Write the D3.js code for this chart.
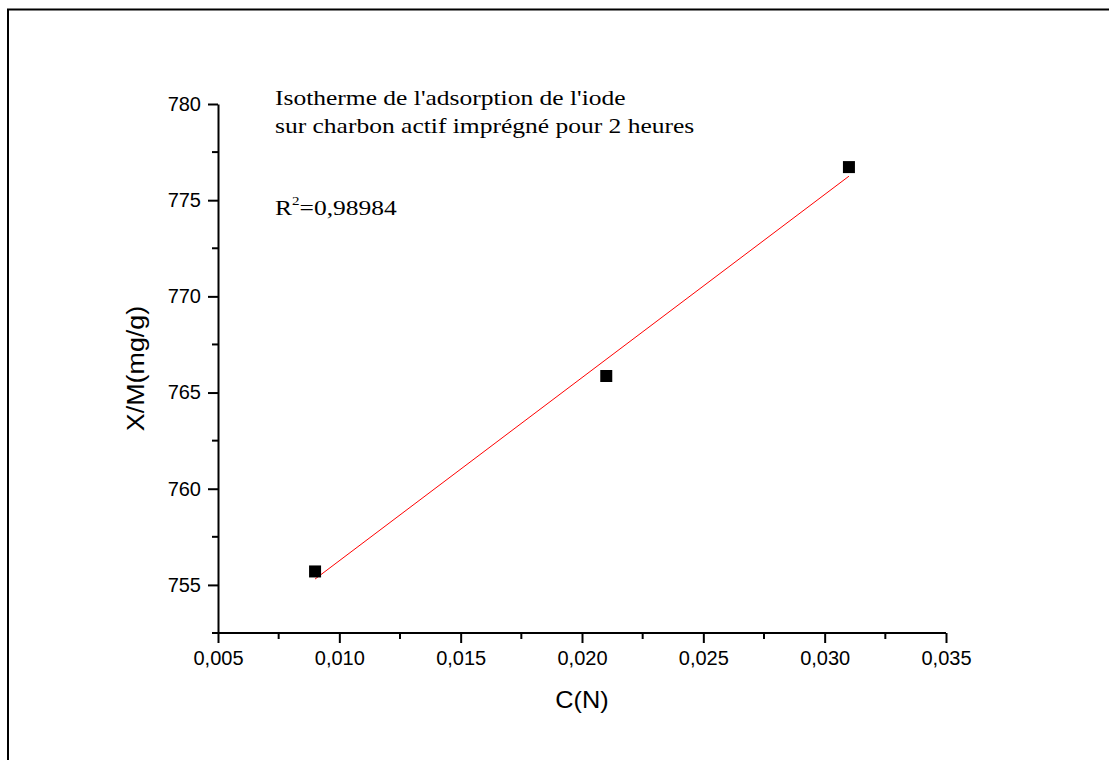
<!DOCTYPE html>
<html>
<head>
<meta charset="utf-8">
<script src="https://cdn.jsdelivr.net/npm/d3@7"></script>
<style>
  html, body { margin: 0; padding: 0; background: #fff; }
  svg { display: block; }
</style>
</head>
<body>
<svg id="chart" width="1109" height="760"></svg>
<script>
// Iodine adsorption isotherm: concentration C(N) vs. adsorbed amount X/M (mg/g)
const concentrations = [0.009, 0.021, 0.031];
const adsorbed = [755.70, 765.86, 776.72];
const xTicks = [0.005, 0.010, 0.015, 0.020, 0.025, 0.030, 0.035];
const yTicks = [755, 760, 765, 770, 775, 780];
const noteLines = ["Isotherme de l'adsorption de l'iode", "sur charbon actif imprégné pour 2 heures"];
const r2Text = "=0,98984";

const svg = d3.select("#chart");
const W = 1109, H = 760;
const plot = { left: 218, right: 946, top: 104, bottom: 633 };

// outer frame
svg.append("rect")
  .attr("x", 8).attr("y", 9.5)
  .attr("width", W + 20).attr("height", H + 20)
  .attr("fill", "none").attr("stroke", "#000").attr("stroke-width", 2);

const x = d3.scaleLinear().domain([0.005, 0.035]).range([plot.left, plot.right]);
const y = d3.scaleLinear().domain([752.5, 780]).range([plot.bottom, plot.top]);

const fmt = v => d3.format(".3f")(v).replace(".", ",");

const axisFont = "'Liberation Sans', Arial, sans-serif";

// x axis (bottom)
const gx = svg.append("g").attr("transform", `translate(0,${plot.bottom})`);
const xMinor = d3.range(0.0075, 0.035, 0.005);
gx.selectAll(".minor").data(xMinor).join("line")
  .attr("x1", d => x(d)).attr("x2", d => x(d))
  .attr("y1", 0).attr("y2", 6)
  .attr("stroke", "#000").attr("stroke-width", 2);
gx.call(d3.axisBottom(x).tickValues(xTicks).tickFormat(fmt).tickSize(10).tickPadding(8).tickSizeOuter(0));
gx.select(".domain").attr("stroke-width", 2).attr("d", `M${plot.left - 5},0H${plot.right}`);
gx.selectAll(".tick line").attr("stroke-width", 2);
gx.selectAll(".tick text").attr("font-family", axisFont).attr("font-size", 20).attr("fill", "#000");

// y axis (left)
const gy = svg.append("g").attr("transform", `translate(${plot.left},0)`);
const yMinor = d3.range(752.5, 780, 5);
gy.selectAll(".minor").data(yMinor).join("line")
  .attr("x1", 0).attr("x2", -6)
  .attr("y1", d => y(d)).attr("y2", d => y(d))
  .attr("stroke", "#000").attr("stroke-width", 2);
gy.call(d3.axisLeft(y).tickValues(yTicks).tickFormat(d3.format("d")).tickSize(10).tickPadding(7).tickSizeOuter(0));
gy.select(".domain").attr("stroke-width", 2);
gy.selectAll(".tick line").attr("stroke-width", 2);
gy.selectAll(".tick text").attr("font-family", axisFont).attr("font-size", 20).attr("fill", "#000");

// axis titles (slightly widened along the reading direction)
const cx = (plot.left + plot.right) / 2;
svg.append("text")
  .attr("transform", `translate(${cx},708) scale(1.1,1)`)
  .attr("text-anchor", "middle")
  .attr("font-family", axisFont).attr("font-size", 23)
  .text("C(N)");
svg.append("text")
  .attr("transform", `translate(144,${(plot.top + plot.bottom) / 2}) rotate(-90) scale(1.12,1)`)
  .attr("text-anchor", "middle")
  .attr("font-family", axisFont).attr("font-size", 24)
  .text("X/M(mg/g)");

// least-squares linear fit
const mx = d3.mean(concentrations), my = d3.mean(adsorbed);
let sxy = 0, sxx = 0;
concentrations.forEach((c, i) => { sxy += (c - mx) * (adsorbed[i] - my); sxx += (c - mx) ** 2; });
const slope = sxy / sxx, intercept = my - slope * mx;
const xExt = d3.extent(concentrations);
svg.append("line")
  .attr("x1", x(xExt[0])).attr("y1", y(intercept + slope * xExt[0]))
  .attr("x2", x(xExt[1])).attr("y2", y(intercept + slope * xExt[1]))
  .attr("stroke", "#ff0000").attr("stroke-width", 1);

// data points
const sq = 12;
svg.selectAll(".pt").data(concentrations).join("rect")
  .attr("x", d => x(d) - sq / 2)
  .attr("y", (d, i) => y(adsorbed[i]) - sq / 2)
  .attr("width", sq).attr("height", sq)
  .attr("fill", "#000");

// annotation text, slightly widened serif
const serif = "'Liberation Serif', 'Times New Roman', serif";
const note = svg.append("g")
  .attr("transform", "translate(275,0) scale(1.16,1)")
  .attr("font-family", serif).attr("font-size", 22).attr("fill", "#000");
note.selectAll(".ln").data(noteLines).join("text")
  .attr("x", 0).attr("y", (d, i) => 105 + i * 28.5)
  .text(d => d);
const r2 = note.append("text").attr("x", 0).attr("y", 215);
r2.append("tspan").text("R");
r2.append("tspan").attr("font-size", 13).attr("dy", -10).text("2");
r2.append("tspan").attr("dy", 10).text(r2Text);
</script>
</body>
</html>
